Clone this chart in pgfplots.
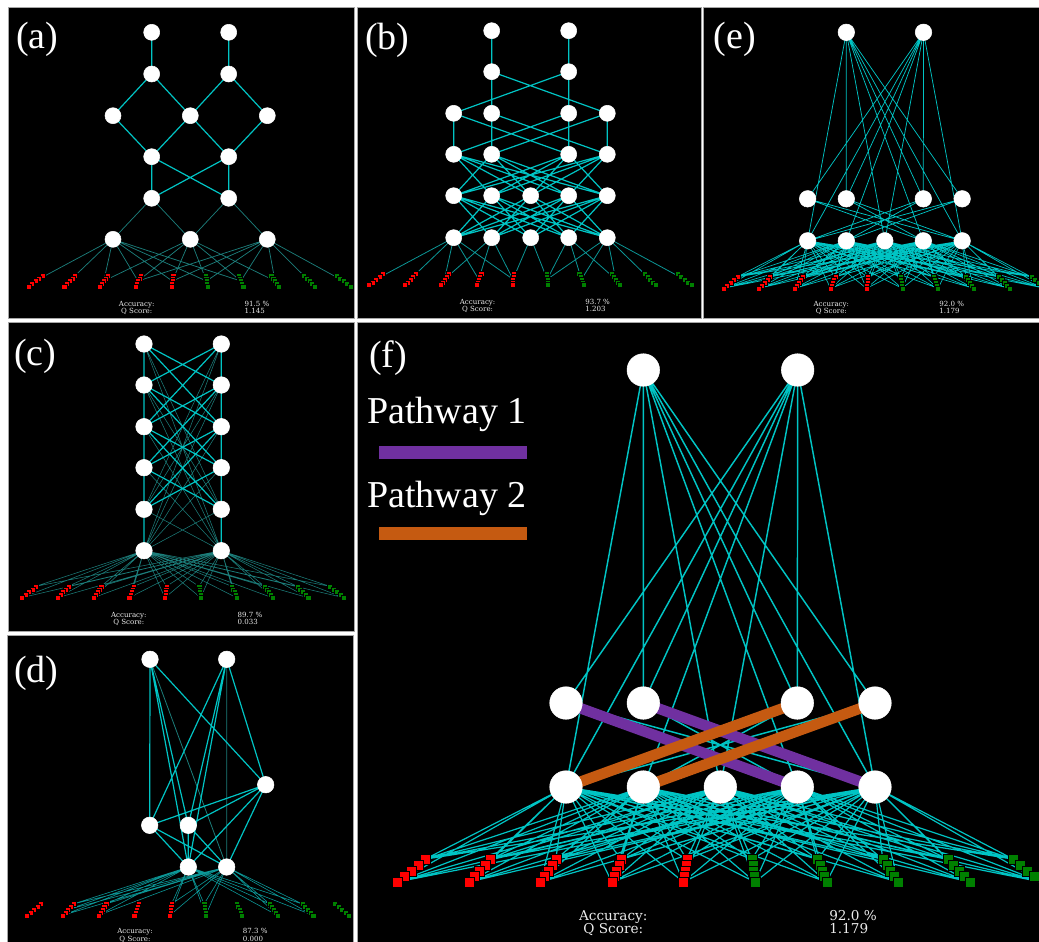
\documentclass[border=0pt]{standalone}
\usepackage{pgfplots}
\pgfplotsset{compat=1.18}
\usepackage{pgfplotstable}
\usepackage{fontspec}
\setmainfont{Liberation Serif}
\newfontfamily\dvs{DejaVu Serif}
\definecolor{cy}{RGB}{0,196,196}
\definecolor{cym}{RGB}{12,150,150}
\definecolor{cyd}{RGB}{28,125,122}
\definecolor{pur}{RGB}{112,48,160}
\definecolor{org}{RGB}{197,90,17}
\definecolor{grn}{RGB}{0,128,0}
\definecolor{txt}{RGB}{235,235,235}

% input stacks, local coordinates (group 0 base at origin), back to front
\pgfplotstableread[row sep=\\]{
x y\\
14.0 -11.4\\ 10.5 -8.55\\ 7.0 -5.7\\ 3.5 -2.85\\ 0 0\\
46.7 -11.4\\ 44.0 -8.55\\ 41.2 -5.7\\ 38.5 -2.85\\ 35.8 0\\
79.4 -11.4\\ 77.4 -8.55\\ 75.5 -5.7\\ 73.5 -2.85\\ 71.6 0\\
112.1 -11.4\\ 110.9 -8.55\\ 109.7 -5.7\\ 108.6 -2.85\\ 107.4 0\\
144.8 -11.4\\ 144.4 -8.55\\ 144.0 -5.7\\ 143.6 -2.85\\ 143.2 0\\
}\inR
\pgfplotstableread[row sep=\\]{
x y\\
177.4 -11.4\\ 177.8 -8.55\\ 178.2 -5.7\\ 178.6 -2.85\\ 179 0\\
210.1 -11.4\\ 211.3 -8.55\\ 212.5 -5.7\\ 213.6 -2.85\\ 214.8 0\\
242.8 -11.4\\ 244.8 -8.55\\ 246.7 -5.7\\ 248.7 -2.85\\ 250.6 0\\
275.5 -11.4\\ 278.2 -8.55\\ 281.0 -5.7\\ 283.7 -2.85\\ 286.4 0\\
308.2 -11.4\\ 311.7 -8.55\\ 315.2 -5.7\\ 318.7 -2.85\\ 322.2 0\\
}\inG

% network of panels (e) and (f), in the pixel coordinates of (f)
\pgfplotstableread[row sep=\\]{
x y\\
643.3 370\\ 797.7 370\\
566 703\\ 643.3 703\\ 797.3 703\\ 875 703\\
566 787\\ 643.3 787\\ 720.3 787\\ 797.3 787\\ 875 787\\
}\ndF
\pgfplotstableread[row sep=\\]{
x y\\
643.3 370\\566 787\\643.3 370\\643.3 703\\643.3 370\\720.3 787\\643.3 370\\797.3 787\\643.3 370\\875 787\\643.3 370\\875 703\\643.3 370\\797.3 703\\nan nan\\
797.7 370\\566 703\\797.7 370\\566 787\\797.7 370\\643.3 787\\797.7 370\\643.3 703\\797.7 370\\797.3 703\\797.7 370\\720.3 787\\797.7 370\\875 787\\nan nan\\
566 703\\797.3 787\\566 703\\875 787\\nan nan\\
643.3 703\\797.3 787\\643.3 703\\875 787\\nan nan\\
797.3 703\\566 787\\797.3 703\\643.3 787\\nan nan\\
875 703\\566 787\\875 703\\643.3 787\\
}\topF
\pgfplotstableread[row sep=\\]{
x y\\
566 787\\397 882\\566 787\\425 859.2\\566 787\\468.6 882\\566 787\\490.4 859.2\\566 787\\540.2 882\\566 787\\555.8 859.2\\566 787\\611.8 882\\566 787\\621.2 859.2\\566 787\\683.4 882\\566 787\\686.6 859.2\\566 787\\755 882\\566 787\\751.8 859.2\\566 787\\826.6 882\\566 787\\817.2 859.2\\566 787\\898.2 882\\566 787\\882.6 859.2\\566 787\\969.8 882\\566 787\\948 859.2\\566 787\\1041.4 882\\566 787\\1013.4 859.2\\566 787\\nan nan\\
643.3 787\\397 882\\643.3 787\\425 859.2\\643.3 787\\468.6 882\\643.3 787\\490.4 859.2\\643.3 787\\540.2 882\\643.3 787\\555.8 859.2\\643.3 787\\611.8 882\\643.3 787\\621.2 859.2\\643.3 787\\683.4 882\\643.3 787\\686.6 859.2\\643.3 787\\755 882\\643.3 787\\751.8 859.2\\643.3 787\\826.6 882\\643.3 787\\817.2 859.2\\643.3 787\\898.2 882\\643.3 787\\882.6 859.2\\643.3 787\\969.8 882\\643.3 787\\948 859.2\\643.3 787\\1041.4 882\\643.3 787\\1013.4 859.2\\643.3 787\\nan nan\\
720.3 787\\397 882\\720.3 787\\425 859.2\\720.3 787\\468.6 882\\720.3 787\\490.4 859.2\\720.3 787\\540.2 882\\720.3 787\\555.8 859.2\\720.3 787\\611.8 882\\720.3 787\\621.2 859.2\\720.3 787\\683.4 882\\720.3 787\\686.6 859.2\\720.3 787\\755 882\\720.3 787\\751.8 859.2\\720.3 787\\826.6 882\\720.3 787\\817.2 859.2\\720.3 787\\898.2 882\\720.3 787\\882.6 859.2\\720.3 787\\969.8 882\\720.3 787\\948 859.2\\720.3 787\\1041.4 882\\720.3 787\\1013.4 859.2\\720.3 787\\nan nan\\
797.3 787\\397 882\\797.3 787\\425 859.2\\797.3 787\\468.6 882\\797.3 787\\490.4 859.2\\797.3 787\\540.2 882\\797.3 787\\555.8 859.2\\797.3 787\\611.8 882\\797.3 787\\621.2 859.2\\797.3 787\\683.4 882\\797.3 787\\686.6 859.2\\797.3 787\\755 882\\797.3 787\\751.8 859.2\\797.3 787\\826.6 882\\797.3 787\\817.2 859.2\\797.3 787\\898.2 882\\797.3 787\\882.6 859.2\\797.3 787\\969.8 882\\797.3 787\\948 859.2\\797.3 787\\1041.4 882\\797.3 787\\1013.4 859.2\\797.3 787\\nan nan\\
875 787\\397 882\\875 787\\425 859.2\\875 787\\468.6 882\\875 787\\490.4 859.2\\875 787\\540.2 882\\875 787\\555.8 859.2\\875 787\\611.8 882\\875 787\\621.2 859.2\\875 787\\683.4 882\\875 787\\686.6 859.2\\875 787\\755 882\\875 787\\751.8 859.2\\875 787\\826.6 882\\875 787\\817.2 859.2\\875 787\\898.2 882\\875 787\\882.6 859.2\\875 787\\969.8 882\\875 787\\948 859.2\\875 787\\1041.4 882\\875 787\\1013.4 859.2\\875 787\\
}\fanF

\pgfplotsset{
  panel/.style={scale only axis, y dir=reverse, anchor=north west,
    xtick=\empty, ytick=\empty,
    axis line style={draw=gray!70, line width=0.6pt},
    axis background/.style={fill=black}, unbounded coords=jump},
  br/.style={mark=none, color=cy, line width=0.9pt, line join=round},
  md/.style={mark=none, color=cym, line width=0.6pt, line join=round},
  dm/.style={mark=none, color=cyd, line width=0.55pt, line join=round},
  nd/.style={only marks, mark=*, mark size=#1, mark options={fill=white, draw=white}},
  sqR/.style={only marks, mark=square*, mark size=#1, mark options={fill=red, draw=black, line width=0.15pt}},
  sqG/.style={only marks, mark=square*, mark size=#1, mark options={fill=grn, draw=black, line width=0.15pt}},
}
\tikzset{
  lbl/.style={anchor=base west, inner sep=0pt, text=white, font=\fontsize{28.5}{30}\selectfont},
  st/.style={inner sep=0pt, text=txt, font=\dvs\fontsize{5.3}{6}\selectfont},
  stf/.style={inner sep=0pt, text=txt, font=\dvs\fontsize{10.2}{12}\selectfont},
}

\begin{document}
\begin{tikzpicture}
\path[use as bounding box, fill=white] (0,0) rectangle (779.25pt,-706.5pt);

% ---------------- (a)
\begin{axis}[panel, at={(6pt,-5.25pt)}, width=259.5pt, height=233.25pt,
  xmin=8, xmax=354, ymin=7, ymax=318]
\addplot[sqR=1.9pt] table[x expr=\thisrow{x}+28.3, y expr=\thisrow{y}+286.7] {\inR};
\addplot[sqG=1.9pt] table[x expr=\thisrow{x}+28.3, y expr=\thisrow{y}+286.7] {\inG};
\addplot[dm] coordinates {(113,239.3)(151.7,198.3)(190.3,239.3) (nan,nan) (190.3,239.3)(228.7,198.3)(267.3,239.3) (nan,nan)
(113,239.3)(35.3,281)(113,239.3)(69.5,281)(113,239.3)(103.8,281)(113,239.3)(138,281)(113,239.3)(172.3,281)(113,239.3)(206.5,281)(113,239.3)(240.8,281) (nan,nan)
(190.3,239.3)(103.8,281)(190.3,239.3)(138,281)(190.3,239.3)(172.3,281)(190.3,239.3)(206.5,281)(190.3,239.3)(240.8,281)(190.3,239.3)(275,281) (nan,nan)
(267.3,239.3)(138,281)(267.3,239.3)(172.3,281)(267.3,239.3)(206.5,281)(267.3,239.3)(240.8,281)(267.3,239.3)(275,281)(267.3,239.3)(309.3,281)(267.3,239.3)(343.5,281)};
\addplot[br] coordinates {(151.7,32.3)(151.7,74) (nan,nan) (228.7,32.3)(228.7,74) (nan,nan)
(113,115.7)(151.7,74)(190.3,115.7)(228.7,74)(267.3,115.7) (nan,nan)
(113,115.7)(151.7,156.7)(190.3,115.7)(228.7,156.7)(267.3,115.7) (nan,nan)
(151.7,156.7)(151.7,198.3) (nan,nan) (228.7,156.7)(228.7,198.3) (nan,nan)
(151.7,156.7)(228.7,198.3) (nan,nan) (228.7,156.7)(151.7,198.3)};
\addplot[nd=6pt] coordinates {(151.7,32.3)(228.7,32.3)(151.7,74)(228.7,74)(113,115.7)(190.3,115.7)(267.3,115.7)(151.7,156.7)(228.7,156.7)(151.7,198.3)(228.7,198.3)(113,239.3)(190.3,239.3)(267.3,239.3)};
\node[lbl] at (16,48.5) {(a)};
\node[st, anchor=base] at (136.7,306) {Accuracy:};
\node[st, anchor=base] at (136.7,313.3) {Q Score:};
\node[st, anchor=base west] at (244.3,306) {91.5 \%};
\node[st, anchor=base west] at (244.3,313.3) {1.145};
\end{axis}

% ---------------- (b)
\begin{axis}[panel, at={(267.75pt,-5.25pt)}, width=258pt, height=233.25pt,
  xmin=357, xmax=701, ymin=7, ymax=318]
\addplot[sqR=1.9pt] table[x expr=\thisrow{x}+369, y expr=\thisrow{y}+285] {\inR};
\addplot[sqG=1.9pt] table[x expr=\thisrow{x}+369, y expr=\thisrow{y}+285] {\inG};
\addplot[md] coordinates {(376,279.3)(453.7,237.7)(410.2,279.3)(453.7,237.7)(444.5,279.3)(453.7,237.7)(478.7,279.3)(453.7,237.7)(513,279.3) (nan,nan)
(444.5,279.3)(491.7,237.7)(478.7,279.3)(491.7,237.7)(513,279.3) (nan,nan)
(513,279.3)(530.7,237.7)(547.2,279.3) (nan,nan)
(547.2,279.3)(568.7,237.7)(581.5,279.3)(568.7,237.7)(615.7,279.3) (nan,nan)
(547.2,279.3)(607.3,237.7)(581.5,279.3)(607.3,237.7)(615.7,279.3)(607.3,237.7)(650,279.3)(607.3,237.7)(684.2,279.3)};
\addplot[br] coordinates {(491.7,30.7)(491.7,71.7) (nan,nan) (568.7,30.7)(568.7,71.7) (nan,nan)
(491.7,113.3)(491.7,71.7)(607.3,113.3) (nan,nan) (568.7,113.3)(568.7,71.7)(453.7,113.3) (nan,nan)
(453.7,113.3)(453.7,154.3) (nan,nan) (491.7,113.3)(491.7,154.3) (nan,nan) (568.7,113.3)(568.7,154.3) (nan,nan) (607.3,113.3)(607.3,154.3) (nan,nan)
(453.7,113.3)(568.7,154.3) (nan,nan) (491.7,113.3)(607.3,154.3) (nan,nan) (568.7,113.3)(453.7,154.3) (nan,nan) (607.3,113.3)(491.7,154.3) (nan,nan)
(491.7,195.7)(453.7,154.3)(530.7,195.7)(453.7,154.3)(568.7,195.7)(453.7,154.3)(607.3,195.7) (nan,nan)
(453.7,195.7)(491.7,154.3)(530.7,195.7)(491.7,154.3)(568.7,195.7)(491.7,154.3)(607.3,195.7) (nan,nan)
(453.7,195.7)(568.7,154.3)(491.7,195.7)(568.7,154.3)(530.7,195.7)(568.7,154.3)(607.3,195.7) (nan,nan)
(453.7,195.7)(607.3,154.3)(491.7,195.7)(607.3,154.3)(530.7,195.7)(607.3,154.3)(568.7,195.7) (nan,nan)
(491.7,237.7)(453.7,195.7)(530.7,237.7)(453.7,195.7)(568.7,237.7)(453.7,195.7)(607.3,237.7) (nan,nan)
(453.7,237.7)(491.7,195.7)(530.7,237.7)(491.7,195.7)(568.7,237.7)(491.7,195.7)(607.3,237.7) (nan,nan)
(453.7,237.7)(530.7,195.7)(491.7,237.7)(530.7,195.7)(568.7,237.7)(530.7,195.7)(607.3,237.7) (nan,nan)
(453.7,237.7)(568.7,195.7)(491.7,237.7)(568.7,195.7)(530.7,237.7)(568.7,195.7)(607.3,237.7) (nan,nan)
(453.7,237.7)(607.3,195.7)(491.7,237.7)(607.3,195.7)(530.7,237.7)(607.3,195.7)(568.7,237.7)};
\addplot[nd=6pt] coordinates {(491.7,30.7)(568.7,30.7)(491.7,71.7)(568.7,71.7)(453.7,113.3)(491.7,113.3)(568.7,113.3)(607.3,113.3)(453.7,154.3)(491.7,154.3)(568.7,154.3)(607.3,154.3)(453.7,195.7)(491.7,195.7)(530.7,195.7)(568.7,195.7)(607.3,195.7)(453.7,237.7)(491.7,237.7)(530.7,237.7)(568.7,237.7)(607.3,237.7)};
\node[lbl] at (365,49) {(b)};
\node[st, anchor=base] at (477.6,304.3) {Accuracy:};
\node[st, anchor=base] at (477.6,311.7) {Q Score:};
\node[st, anchor=base west] at (585,304.3) {93.7 \%};
\node[st, anchor=base west] at (585,311.7) {1.203};
\end{axis}

% ---------------- (e)
\begin{axis}[panel, at={(527.25pt,-5.25pt)}, width=252pt, height=233.25pt,
  xmin=356.7, xmax=1028.7, ymin=319.4, ymax=941.4]
\addplot[sqR=1.9pt] table[x expr=2*\thisrow{x}+397, y expr=2*\thisrow{y}+882] {\inR};
\addplot[sqG=1.9pt] table[x expr=2*\thisrow{x}+397, y expr=2*\thisrow{y}+882] {\inG};
\addplot[mark=none, color=cy, line width=0.5pt, line join=round] table {\fanF};
\addplot[mark=none, color=cy, line width=0.55pt, line join=round] table {\topF};
\addplot[nd=6.2pt] table {\ndF};
\node[lbl] at (378,402.4) {(e)};
\node[st, anchor=base] at (613.3,918) {Accuracy:};
\node[st, anchor=base] at (613.3,933) {Q Score:};
\node[st, anchor=base west] at (829,918) {92.0 \%};
\node[st, anchor=base west] at (829,933) {1.179};
\end{axis}

% ---------------- (c)
\begin{axis}[panel, at={(6pt,-241.5pt)}, width=259.5pt, height=231.75pt,
  xmin=8, xmax=354, ymin=322, ymax=631]
\addplot[sqR=1.9pt] table[x expr=\thisrow{x}+21.7, y expr=\thisrow{y}+597.7] {\inR};
\addplot[sqG=1.9pt] table[x expr=\thisrow{x}+21.7, y expr=\thisrow{y}+597.7] {\inG};
\addplot[dm, line width=0.4pt] coordinates {(144,550.7)(21.7,597.7)(144,550.7)(35.7,586.3)(144,550.7)(57.5,597.7)(144,550.7)(68.4,586.3)(144,550.7)(93.3,597.7)(144,550.7)(101.1,586.3)(144,550.7)(129.1,597.7)(144,550.7)(133.8,586.3)(144,550.7)(164.9,597.7)(144,550.7)(166.5,586.3)(144,550.7)(200.7,597.7)(144,550.7)(199.1,586.3)(144,550.7)(236.5,597.7)(144,550.7)(231.8,586.3)(144,550.7)(272.3,597.7)(144,550.7)(264.5,586.3)(144,550.7)(308.1,597.7)(144,550.7)(297.2,586.3)(144,550.7)(343.9,597.7)(144,550.7)(329.9,586.3)(144,550.7) (nan,nan)
(221.3,550.7)(21.7,597.7)(221.3,550.7)(35.7,586.3)(221.3,550.7)(57.5,597.7)(221.3,550.7)(68.4,586.3)(221.3,550.7)(93.3,597.7)(221.3,550.7)(101.1,586.3)(221.3,550.7)(129.1,597.7)(221.3,550.7)(133.8,586.3)(221.3,550.7)(164.9,597.7)(221.3,550.7)(166.5,586.3)(221.3,550.7)(200.7,597.7)(221.3,550.7)(199.1,586.3)(221.3,550.7)(236.5,597.7)(221.3,550.7)(231.8,586.3)(221.3,550.7)(272.3,597.7)(221.3,550.7)(264.5,586.3)(221.3,550.7)(308.1,597.7)(221.3,550.7)(297.2,586.3)(221.3,550.7)(343.9,597.7)(221.3,550.7)(329.9,586.3)(221.3,550.7) (nan,nan)
(144,344)(221.3,550.7)(144,385)(221.3,550.7)(144,426.7)(221.3,550.7)(144,467.7)(221.3,550.7)(144,509.3)(221.3,550.7) (nan,nan)
(221.3,344)(144,550.7)(221.3,385)(144,550.7)(221.3,426.7)(144,550.7)(221.3,467.7)(144,550.7)(221.3,509.3)(144,550.7) (nan,nan)
(144,344)(221.3,509.3)(144,385) (nan,nan) (221.3,344)(144,509.3)(221.3,385)};
\addplot[br] coordinates {(144,344)(144,550.7) (nan,nan) (221.3,344)(221.3,550.7) (nan,nan)
(144,344)(221.3,385) (nan,nan) (221.3,344)(144,385) (nan,nan)
(144,385)(221.3,426.7) (nan,nan) (221.3,385)(144,426.7) (nan,nan)
(144,426.7)(221.3,467.7) (nan,nan) (221.3,426.7)(144,467.7) (nan,nan)
(144,467.7)(221.3,509.3) (nan,nan) (221.3,467.7)(144,509.3) (nan,nan)
(144,344)(221.3,426.7) (nan,nan) (221.3,344)(144,426.7) (nan,nan)
(144,385)(221.3,467.7) (nan,nan) (221.3,385)(144,467.7) (nan,nan)
(144,426.7)(221.3,509.3) (nan,nan) (221.3,426.7)(144,509.3)};
\addplot[nd=6.2pt] coordinates {(144,344)(221.3,344)(144,385)(221.3,385)(144,426.7)(221.3,426.7)(144,467.7)(221.3,467.7)(144,509.3)(221.3,509.3)(144,550.7)(221.3,550.7)};
\node[lbl] at (14,365) {(c)};
\node[st, anchor=base] at (128.8,617) {Accuracy:};
\node[st, anchor=base] at (128.8,624.3) {Q Score:};
\node[st, anchor=base west] at (237.3,617) {89.7 \%};
\node[st, anchor=base west] at (237.3,624.3) {0.033};
\end{axis}

% ---------------- (d)
\begin{axis}[panel, at={(5.25pt,-476.25pt)}, width=259.5pt, height=230.25pt,
  xmin=7, xmax=353, ymin=635, ymax=942]
\addplot[sqR=1.9pt] table[x expr=\thisrow{x}+26.7, y expr=\thisrow{y}+915.3] {\inR};
\addplot[sqG=1.9pt] table[x expr=\thisrow{x}+26.7, y expr=\thisrow{y}+915.3] {\inG};
\addplot[md, line width=0.45pt] coordinates {(188.3,867)(62.5,915.3)(188.3,867)(73.4,903.9)(188.3,867)(67.9,909.6)(188.3,867)(98.3,915.3)(188.3,867)(106.1,903.9)(188.3,867)(169.9,915.3)(188.3,867)(171.5,903.9)(188.3,867)(205.7,915.3)(188.3,867)(204.1,903.9)(188.3,867)(277.3,915.3)(188.3,867)(269.5,903.9)(188.3,867)(313.1,915.3)(188.3,867)(302.2,903.9)(188.3,867) (nan,nan)
(226.7,867)(62.5,915.3)(226.7,867)(73.4,903.9)(226.7,867)(67.9,909.6)(226.7,867)(98.3,915.3)(226.7,867)(106.1,903.9)(226.7,867)(169.9,915.3)(226.7,867)(171.5,903.9)(226.7,867)(205.7,915.3)(226.7,867)(204.1,903.9)(226.7,867)(277.3,915.3)(226.7,867)(269.5,903.9)(226.7,867)(313.1,915.3)(226.7,867)(302.2,903.9)(226.7,867)};
\addplot[dm, line width=0.6pt] coordinates {(150,659.3)(226.7,867) (nan,nan) (226.7,659.3)(226.7,867)};
\addplot[br] coordinates {(149.7,825.3)(150,659.3)(188.3,825.3)(150,659.3)(265.7,784.7)(150,659.3)(188.3,867) (nan,nan)
(149.7,825.3)(226.7,659.3)(188.3,825.3)(226.7,659.3)(265.7,784.7)(226.7,659.3)(188.3,867) (nan,nan)
(149.7,825.3)(265.7,784.7)(188.3,825.3)(265.7,784.7)(188.3,867)(265.7,784.7)(226.7,867) (nan,nan)
(188.3,867)(149.7,825.3)(226.7,867) (nan,nan)
(188.3,867)(188.3,825.3)(226.7,867)};
\addplot[nd=6.2pt] coordinates {(150,659.3)(226.7,659.3)(265.7,784.7)(149.7,825.3)(188.3,825.3)(188.3,867)(226.7,867)};
\node[lbl] at (14,682.5) {(d)};
\node[st, anchor=base] at (135,933.7) {Accuracy:};
\node[st, anchor=base] at (135,941.3) {Q Score:};
\node[st, anchor=base west] at (242.7,933.7) {87.3 \%};
\node[st, anchor=base west] at (242.7,941.3) {0.000};
\end{axis}

% ---------------- (f)
\begin{axis}[panel, at={(267.75pt,-241.5pt)}, width=511.5pt, height=465pt,
  xmin=357, xmax=1039, ymin=322, ymax=942]
\addplot[sqR=3.75pt] table[x expr=2*\thisrow{x}+397, y expr=2*\thisrow{y}+882] {\inR};
\addplot[sqG=3.75pt] table[x expr=2*\thisrow{x}+397, y expr=2*\thisrow{y}+882] {\inG};
\addplot[mark=none, color=cy, line width=0.9pt, line join=round] table {\fanF};
\addplot[mark=none, color=cy, line width=1.1pt, line join=round] table {\topF};
\addplot[mark=none, color=pur, line width=8pt] coordinates {(566,703)(797.3,787) (nan,nan) (643.3,703)(875,787)};
\addplot[mark=none, color=org, line width=8pt] coordinates {(566,787)(797.3,703) (nan,nan) (643.3,787)(875,703)};
\addplot[nd=12.2pt] table {\ndF};
\addplot[mark=none, color=pur, line width=9.75pt] coordinates {(379,452.7)(526.7,452.7)};
\addplot[mark=none, color=org, line width=9.75pt] coordinates {(379,533.3)(526.7,533.3)};
\node[lbl] at (369,367) {(f)};
\node[lbl] at (367,423) {Pathway 1};
\node[lbl] at (367,507) {Pathway 2};
\node[stf, anchor=base] at (613.3,920) {Accuracy:};
\node[stf, anchor=base] at (613.3,933) {Q Score:};
\node[stf, anchor=base west] at (829,920) {92.0 \%};
\node[stf, anchor=base west] at (829,933) {1.179};
\end{axis}
\end{tikzpicture}
\end{document}
